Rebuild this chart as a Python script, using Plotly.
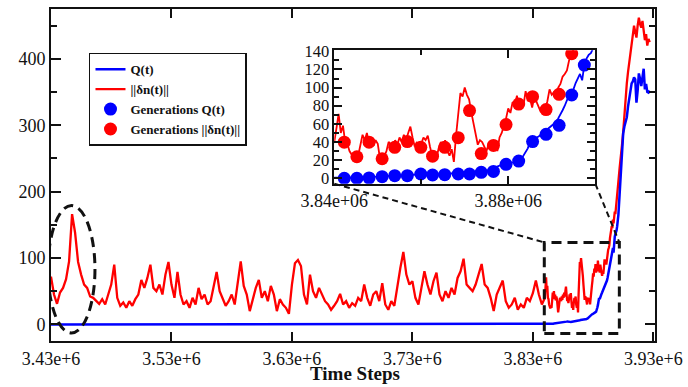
import numpy as np
import plotly.graph_objects as go

# ---------------- data ----------------
# ||δn(t)|| main section, sampled every 2500 time steps from 3.43e6
red_main_t0, red_main_dt = 3.43e6, 2500
red_main_v = [72, 45, 31, 48, 55, 68, 95, 166, 138, 94, 75, 60, 55, 42, 40, 35, 31, 38, 30, 45,
              60, 90, 40, 28, 33, 25, 35, 28, 38, 45, 67, 55, 70, 90, 55, 50, 60, 45, 75, 94,
              60, 40, 79, 45, 30, 35, 25, 40, 30, 55, 38, 45, 30, 35, 55, 79, 50, 40, 28, 35,
              45, 30, 60, 95, 58, 45, 20, 40, 55, 67, 40, 50, 35, 58, 45, 20, 38, 30, 25, 16,
              60, 92, 97, 88, 45, 30, 75, 50, 40, 55, 45, 35, 30, 22, 28, 35, 46, 30, 35, 25,
              32, 28, 40, 35, 60, 40, 28, 45, 50, 35, 62, 30, 22, 35, 28, 60, 85, 109, 75, 60,
              65, 40, 30, 55, 80, 60, 45, 65, 78, 45, 35, 50, 40, 55, 45, 70, 80, 99, 60, 55,
              50, 60, 75, 91, 60, 55, 40, 20, 45, 55, 66, 35, 25, 30, 40, 22, 30, 25, 40, 35,
              47, 66, 45, 30]
# ||δn(t)|| zoomed section, every 500 steps from 3.84e6 to 3.90e6
red_zoom_t0, red_zoom_dt = 3.84e6, 500
red_zoom_v = [40, 55, 71, 50, 58, 40, 38, 30, 26, 24, 27, 25, 35, 48, 42, 50, 38, 45, 36, 42,
              38, 22, 18, 25, 30, 40, 38, 35, 42, 37, 45, 40, 48, 42, 50, 57, 45, 35, 40, 32,
              38, 45, 42, 47, 35, 25, 30, 22, 33, 40, 35, 42, 30, 25, 32, 18, 47, 70, 94, 90,
              100, 92, 87, 73, 60, 50, 37, 42, 40, 35, 30, 38, 40, 35, 38, 30, 45, 50, 58, 66,
              77, 72, 84, 80, 91, 78, 86, 80, 96, 85, 88, 78, 90, 84, 78, 73, 80, 76, 85, 98,
              92, 95, 90, 100, 104, 112, 115, 119, 130, 136, 141, 148, 145, 158, 152, 163, 170, 166, 178, 184,
              190]
# ||δn(t)|| final rise, every 1000 steps from 3.901e6
red_end_t0, red_end_dt = 3.901e6, 1000
red_end_v = [215, 235, 250, 270, 290, 318, 340, 363, 380, 395, 405, 425, 437, 450, 440, 432, 450,
             462, 452, 447, 457, 440, 428, 437, 420, 430, 425]

# Q(t): flat at zero, then zoomed section (every 500 steps from 3.84e6) and final rise
blue_flat_t = [3.43e6, 3.8395e6]
blue_flat_v = [0, 0]
blue_zoom_v = [0, 0, 0, 0, 0, 0, 0, 0, 0, 0, 0.3, 0.5, 0.6, 0.8, 1.0, 1.2, 1.3, 1.5, 1.6, 1.8,
               2.0, 2.2, 2.4, 2.6, 2.8, 2.9, 2.9, 3.0, 3.0, 3.1, 3.2, 3.3, 3.5, 3.6, 3.8, 4.0, 4.2, 4.4, 4.5, 4.6,
               4.7, 4.4, 3.8, 3.6, 3.7, 3.8, 4.0, 4.1, 4.3, 4.5, 4.7, 4.7, 4.7, 4.8, 4.9, 5.0, 5.4, 5.8, 6.2, 6.5,
               6.5, 6.8, 7.0, 7.2, 7.4, 7.5, 7.5, 7.6, 7.7, 7.8, 8.5, 9, 10, 11, 12, 13.5, 14, 14.5, 15, 15.4,
               15.8, 17, 17.5, 18, 18.5, 19, 21, 25, 29, 33, 40, 38, 42, 45, 46, 48, 50, 52, 54, 56,
               58, 60, 62, 66, 70, 75, 80, 86, 92, 95, 98, 105, 110, 115, 108, 125, 132, 136, 138, 142,
               148]
blue_end_v = [165, 195, 230, 262, 288, 298, 305, 312, 328, 342, 352, 363, 366, 372, 369, 334, 352,
              378, 370, 359, 372, 385, 354, 362, 350, 349, 352]

# Generation markers (inset)
gen_t = [3.8423e6, 3.8452e6, 3.8480e6, 3.8510e6, 3.8539e6, 3.8568e6, 3.8599e6, 3.8626e6, 3.8654e6,
         3.8685e6, 3.8711e6, 3.8738e6, 3.8766e6, 3.8795e6, 3.8824e6, 3.8856e6, 3.8887e6, 3.8917e6,
         3.8946e6, 3.8975e6]
gen_red = [39.8, 23.7, 39.8, 21.5, 34.1, 40.5, 34.1, 24.4, 34.1, 44.8, 74.6, 27.2, 36.2, 59.2,
           81.8, 90.0, 75.7, 92.6, 137.4]
gen_blue = [0, 0, 0.4, 1.8, 2.9, 2.9, 4.7, 3.6, 4.0, 4.7, 4.7, 6.5, 7.5, 15.4, 19.0, 40.5, 48.4,
            58.4, 91.8, 124.8]

x_tickvals = [3.43e6, 3.53e6, 3.63e6, 3.73e6, 3.83e6, 3.93e6]
x_ticktext = ["3.43e+6", "3.53e+6", "3.63e+6", "3.73e+6", "3.83e+6", "3.93e+6"]
y_tickvals = [0, 100, 200, 300, 400]
inset_x_tickvals = [3.84e6, 3.88e6]
inset_x_ticktext = ["3.84e+06", "3.88e+06"]

# ---------------- assemble series ----------------
red_t = np.concatenate([red_main_t0 + red_main_dt * np.arange(len(red_main_v)),
                        red_zoom_t0 + red_zoom_dt * np.arange(len(red_zoom_v)),
                        red_end_t0 + red_end_dt * np.arange(len(red_end_v))])
red_v = np.array(red_main_v + red_zoom_v + red_end_v, dtype=float)
blue_t = np.concatenate([np.array(blue_flat_t),
                         red_zoom_t0 + red_zoom_dt * np.arange(len(blue_zoom_v)),
                         red_end_t0 + red_end_dt * np.arange(len(blue_end_v))])
blue_v = np.array(blue_flat_v + blue_zoom_v + blue_end_v, dtype=float)

RED, BLUE = "#ff0000", "#0000ff"
SERIF = "Liberation Serif"

fig = go.Figure()
fig.add_trace(go.Scatter(x=red_t, y=red_v, mode="lines", line=dict(color=RED, width=2.3),
                         name="<b>||δn(t)||</b>", legendrank=2))
fig.add_trace(go.Scatter(x=blue_t, y=blue_v, mode="lines", line=dict(color=BLUE, width=2.5),
                         name="<b>Q(t)</b>", legendrank=1))
# inset
fig.add_trace(go.Scatter(x=red_t, y=red_v, mode="lines", line=dict(color=RED, width=1.8),
                         xaxis="x2", yaxis="y2", showlegend=False))
fig.add_trace(go.Scatter(x=blue_t, y=blue_v, mode="lines", line=dict(color=BLUE, width=1.8),
                         xaxis="x2", yaxis="y2", showlegend=False))
fig.add_trace(go.Scatter(x=gen_t, y=gen_blue, mode="markers", marker=dict(color=BLUE, size=13),
                         xaxis="x2", yaxis="y2", name="<b>Generations Q(t)</b>", legendrank=3))
fig.add_trace(go.Scatter(x=gen_t[:len(gen_red)], y=gen_red, mode="markers",
                         marker=dict(color=RED, size=13),
                         xaxis="x2", yaxis="y2", name="<b>Generations ||δn(t)||</b>", legendrank=4))

axis_common = dict(showline=True, linecolor="#111", mirror="ticks", ticks="inside",
                   showgrid=False, zeroline=False, tickcolor="#111")
font_main = dict(family=SERIF, size=18, color="#111")
font_inset = dict(family=SERIF, size=16.5, color="#111")

fig.update_layout(
    width=688, height=387,
    margin=dict(l=51, r=33, t=1, b=46),
    paper_bgcolor="white", plot_bgcolor="white",
    font=dict(family=SERIF, color="#111"),
    xaxis=dict(range=[3.43e6, 3.9314e6], tickmode="array", tickvals=x_tickvals,
               ticktext=x_ticktext, ticklen=9, tickwidth=1.5, linewidth=2,
               tickfont=font_main, **axis_common),
    yaxis=dict(range=[-25, 475], tickmode="array", tickvals=y_tickvals, ticklen=10,
               tickwidth=1.5, linewidth=2, tickfont=font_main,
               minor=dict(ticks="inside", dtick=50, tick0=0, ticklen=6, tickcolor="#111"),
               **axis_common),
    xaxis2=dict(domain=[0.469, 0.901], anchor="y2", range=[3.84e6, 3.9e6], tickmode="array",
                tickvals=inset_x_tickvals, ticktext=inset_x_ticktext, ticklen=8, tickwidth=1.5,
                linewidth=1.5, tickfont=font_main,
                minor=dict(ticks="inside", tickvals=[3.86e6, 3.9e6], ticklen=5, tickcolor="#111"),
                **axis_common),
    yaxis2=dict(domain=[0.4735, 0.8756], anchor="x2", range=[-6.1, 141.1], tickmode="linear",
                tick0=0, dtick=20, ticklen=8, tickwidth=1.5, linewidth=1.5, tickfont=font_inset,
                minor=dict(ticks="inside", dtick=10, tick0=0, ticklen=5, tickcolor="#111"),
                **axis_common),
    legend=dict(x=0.0629, y=0.868, xanchor="left", yanchor="top", bgcolor="white",
                bordercolor="#111", borderwidth=1.5, tracegroupgap=0,
                font=dict(family=SERIF, size=13, color="#111")),
    showlegend=True,
)

dash_big = dict(color="#111", width=3, dash="10px,6px")
dash_small = dict(color="#111", width=2, dash="6px,4px")
fig.add_shape(type="circle", xref="x", yref="y", x0=3.4275e6, x1=3.4665e6, y0=-13, y1=179,
              line=dash_big)
fig.add_shape(type="rect", xref="x", yref="y", x0=3.8395e6, x1=3.9018e6, y0=-13.7, y1=123.5,
              line=dash_big)
fig.add_shape(type="line", xref="x", yref="y", x0=3.6652e6, y0=211.8, x1=3.8395e6, y1=123.5,
              line=dash_small)
fig.add_shape(type="line", xref="x", yref="y", x0=3.8819e6, y0=211.8, x1=3.9018e6, y1=123.5,
              line=dash_small)

fig.add_annotation(text="<b>Time Steps</b>", xref="paper", yref="paper", x=0.503, y=-0.097,
                   xanchor="center", yanchor="middle", showarrow=False,
                   font=dict(family=SERIF, size=19, color="#111"))

fig.write_html("out.html", config={"displayModeBar": False},
               post_script="document.body.style.margin='0px';")
